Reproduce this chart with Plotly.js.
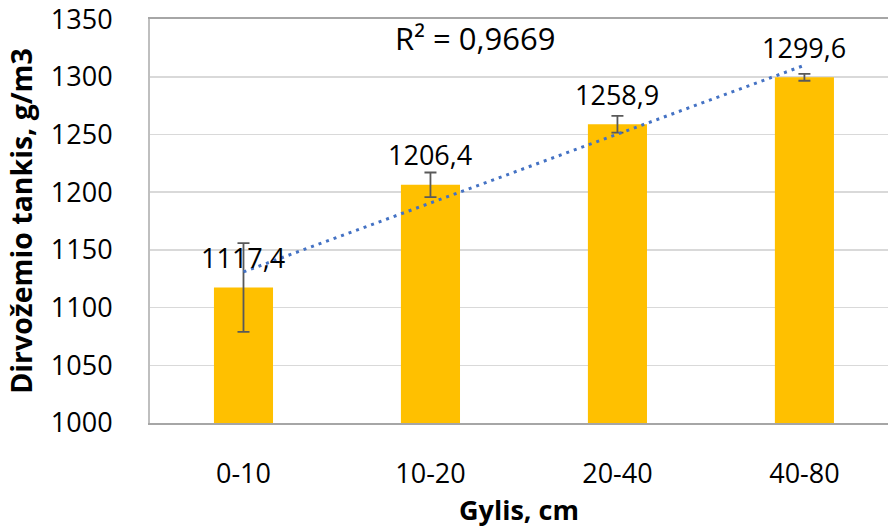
<!DOCTYPE html>
<html>
<head>
<meta charset="utf-8">
<script src="https://cdn.plot.ly/plotly-3.0.1.min.js"></script>
<style>html,body{margin:0;padding:0;background:#fff;}#chart{width:888px;height:528px;}</style>
</head>
<body>
<div id="chart"></div>
<script>
// Data
const categories = ["0-10", "10-20", "20-40", "40-80"];
const density = [1117.4, 1206.4, 1258.9, 1299.6];
const densityLabels = ["1117,4", "1206,4", "1258,9", "1299,6"];
const errorPlusMinus = [38.5, 10.7, 7.3, 3.0];
const trendX = ["0-10", "40-80"];
const trendY = [1131, 1310];
const rSquaredText = "R² = 0,9669";
const yTickVals = [1000, 1050, 1100, 1150, 1200, 1250, 1300, 1350];

const FONT = "'Open Sans', 'Liberation Sans', sans-serif";

const bars = {
  type: "bar",
  x: categories,
  y: density,
  width: 0.316,
  marker: {color: "#FFC000", line: {width: 0}},
  error_y: {type: "data", array: errorPlusMinus, visible: true, color: "#595959", thickness: 1.8, width: 6},
  hoverinfo: "x+y"
};

const trend = {
  type: "scatter",
  mode: "lines",
  x: trendX,
  y: trendY,
  line: {color: "#4472C4", width: 3, dash: "3px,5px"},
  hoverinfo: "skip"
};

const labelAnnotations = categories.map((c, i) => ({
  x: c, y: density[i], xref: "x", yref: "y",
  text: densityLabels[i], showarrow: false,
  yanchor: "middle", yshift: 30,
  font: {family: FONT, size: 27, color: "#000"}
}));

const layout = {
  width: 888, height: 528,
  margin: {l: 150, r: 0, t: 19, b: 105},
  paper_bgcolor: "#fff", plot_bgcolor: "#fff",
  showlegend: false,
  font: {family: FONT, color: "#000"},
  xaxis: {
    type: "category",
    range: [-0.5, 3.447],
    showgrid: false,
    showline: true, linecolor: "#a6a6a6", linewidth: 2, mirror: true,
    ticks: "", ticklabelstandoff: 26,
    tickfont: {family: FONT, size: 27, color: "#000"},
    title: {text: "Gylis, cm", font: {family: FONT, size: 27, color: "#000", weight: "bold"}, standoff: 14},
    fixedrange: true
  },
  yaxis: {
    range: [1000, 1350.1],
    tickvals: yTickVals,
    ticktext: yTickVals.map(String),
    showgrid: true, gridcolor: "#d9d9d9", gridwidth: 1.5,
    showline: true, linecolor: "#bfbfbf", linewidth: 2,
    zeroline: false,
    ticks: "", ticklabelstandoff: 30,
    ticklabeloverflow: "allow",
    tickfont: {family: FONT, size: 27, color: "#000"},
    title: {text: "Dirvožemio tankis, g/m3", font: {family: FONT, size: 28.5, color: "#000", weight: "bold"}, standoff: 10},
    fixedrange: true
  },
  annotations: labelAnnotations.concat([{
    xref: "paper", yref: "paper",
    x: (475 - 150) / 738, y: 1 - (38 - 19) / 404,
    text: rSquaredText, showarrow: false,
    xanchor: "center", yanchor: "middle",
    font: {family: FONT, size: 31, color: "#000"}
  }])
};

Plotly.newPlot("chart", [bars, trend], layout, {displayModeBar: false, staticPlot: true});
</script>
</body>
</html>
